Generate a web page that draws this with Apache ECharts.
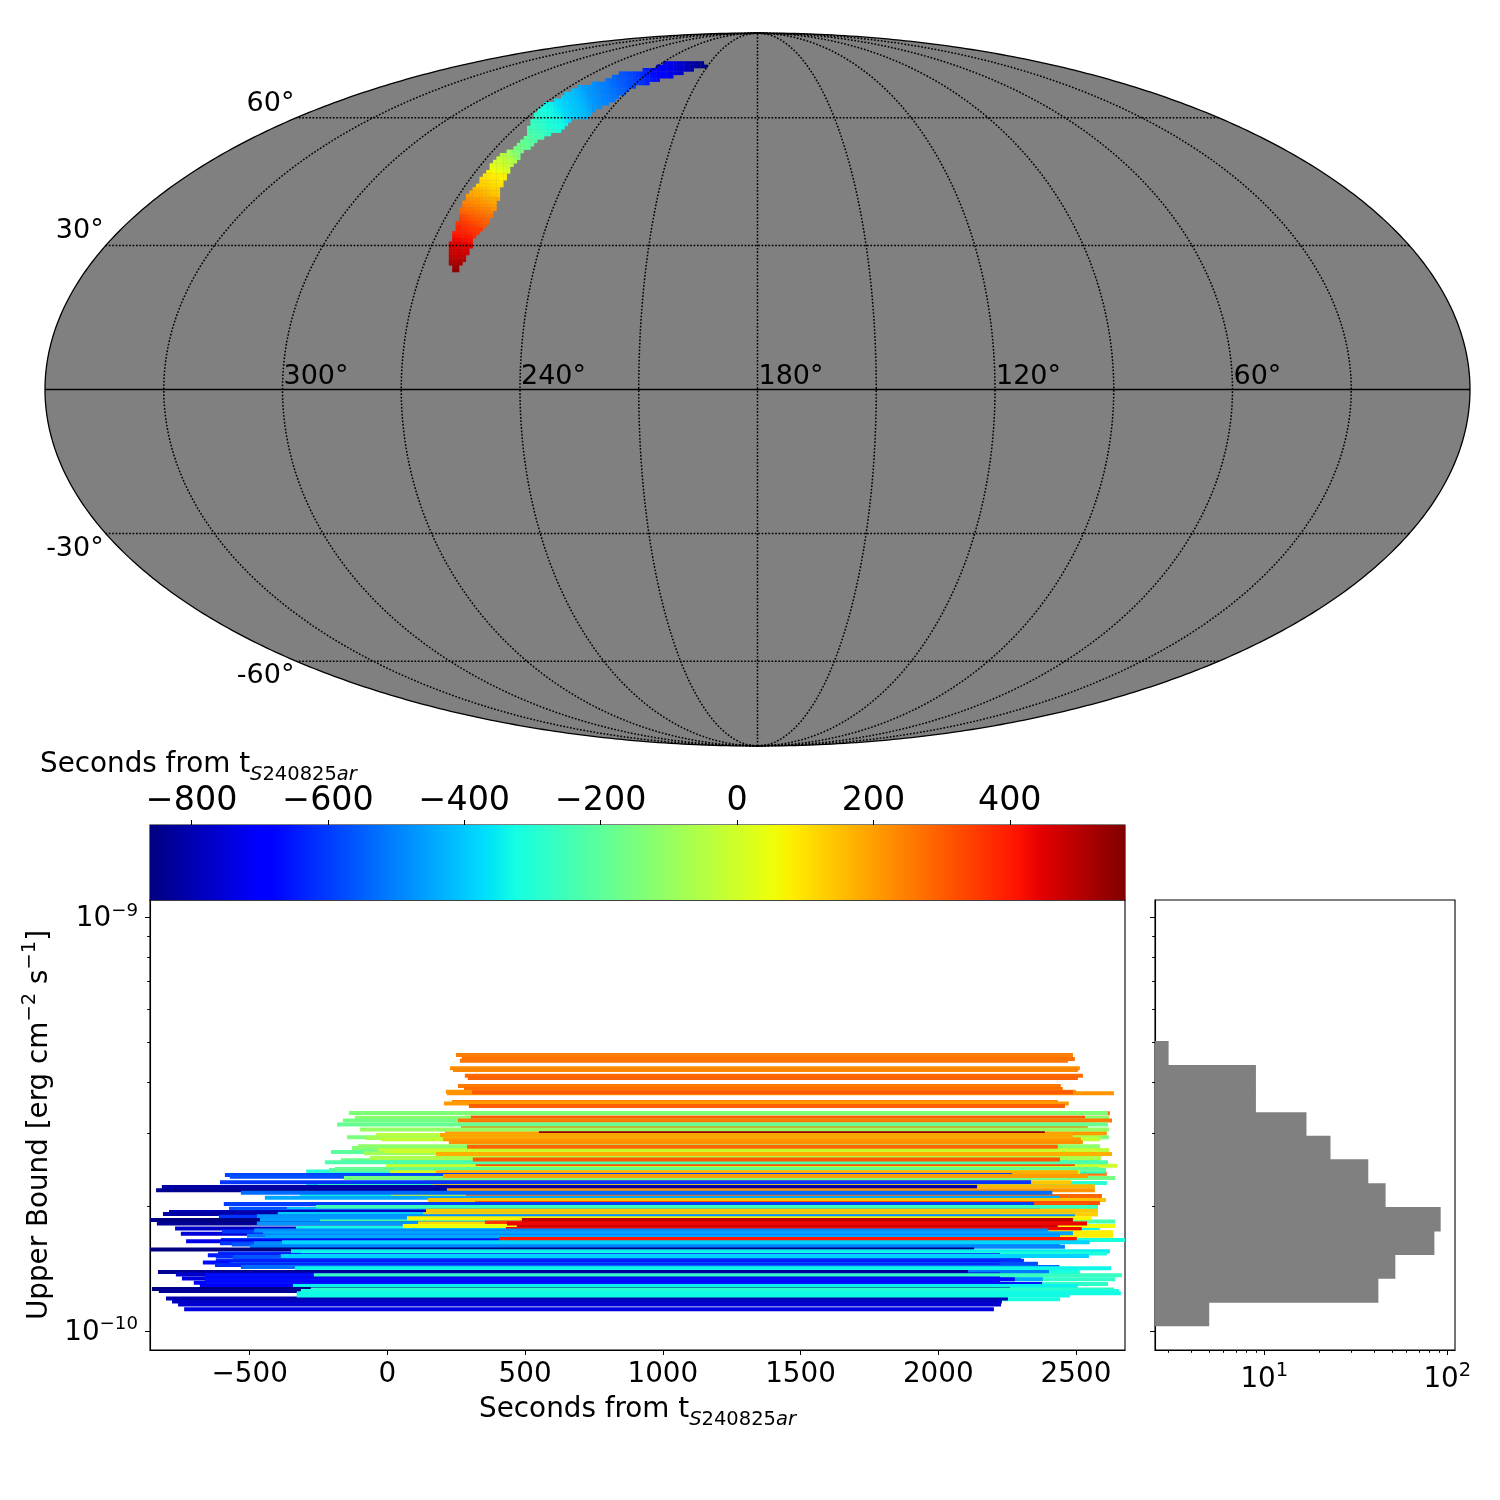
<!DOCTYPE html>
<html><head><meta charset="utf-8">
<style>html,body{margin:0;padding:0;background:#fff}#c{width:1500px;height:1500px}</style>
<script src="https://cdn.jsdelivr.net/npm/echarts@6/dist/echarts.min.js"></script>
</head><body><div id="c"></div>
<script>
// ---- sky localisation strip: two edges (deg) and arrival offset (s) at stations along the strip
const skyLonA=[213.2,222.5,230.4,239.6,242.6,249.2,254.8,257.3,262.6,266.9,267.3,270.0,268.8,266.1,263.3,263.5,263.8,266.6,266.9,266.7,266.8,267.9,267.5,266.6,265.9,265.7,265.0,264.0,262.3,260.8];
const skyLatA=[76.3,77.2,76.9,76.3,74.4,73.6,73.3,70.9,69.7,68.2,65.0,63.9,60.7,58.1,55.5,53.4,51.8,51.0,48.6,45.8,43.1,41.2,39.3,37.1,34.8,32.6,30.1,27.2,25.5,24.0];
const skyLonB=[210.7,216.5,221.9,227.9,233.0,238.7,240.1,242.5,246.2,246.8,251.7,251.3,252.9,256.1,257.6,258.6,259.9,259.0,259.7,259.3,258.6,257.3,256.8,256.6,257.7,259.0,258.8,259.2,259.9,260.4];
const skyLatB=[74.9,73.8,72.4,71.2,69.7,68.7,66.7,63.9,61.6,60.1,59.4,58.1,56.4,55.5,53.9,52.2,50.6,49.4,47.9,45.8,43.1,40.4,37.8,35.2,33.7,31.9,29.7,27.6,25.5,24.0];
const skyT=[-855,-815,-760,-700,-655,-590,-560,-510,-470,-420,-380,-340,-300,-260,-220,-180,-140,-60,0,76,125,183,240,300,355,400,455,490,533,565];

// ---- graticule
const meridians=[30,60,90,120,150,180,210,240,270,300,330];
const parallels=[-60,-30,30,60];
const lonLabels=[300,240,180,120,60];
const latLabels=[60,30,-30,-60];

// ---- upper limits: bound in units of 1e-10 erg/cm2/s, interval start and stop (s), in drawing order
const upperBound=[
4.65,4.55,4.50,4.32,4.28,4.14,4.09,3.91,3.85,3.79,3.76,3.78,3.58,3.55,3.50,
3.36,3.365,3.28,3.28,3.23,3.23,3.13,3.16,
2.94,2.98,2.93,2.91,3.01,3.07,3.01,2.98,2.91,2.86,
2.71,2.80,2.77,2.74,2.69,2.72,2.68,2.79,
2.59,2.62,2.51,2.535,2.56,2.60,
2.40,2.43,2.45,2.465,2.42,2.42,2.385,2.36,2.345,2.37,
2.28,2.29,2.29,
2.19,2.24,2.24,2.23,2.19,2.12,2.12,2.12,2.16,2.10,2.075,
2.04,2.03,1.975,1.97,1.995,
1.955,1.94,1.92,1.92,1.955,1.915,1.89,1.895,
1.855,1.855,1.84,1.875,1.82,1.82,1.82,1.83,1.77,1.775,1.795,1.855,1.82,1.785,1.765,
1.735,1.70,1.72,1.74,1.75,1.725,1.70,1.69,
1.66,1.66,1.65,1.67,1.63,1.62,1.63,1.64,1.60,
1.575,1.54,1.56,1.54,
1.525,1.515,1.51,1.52,1.48,1.465,1.455,1.445,1.43,1.42,
1.39,1.39,1.39,1.37,1.365,1.365,
1.335,1.335,1.34,1.335,1.30,1.31,1.30,1.285,1.285,
1.265,1.195,1.25,1.20,1.26,1.25,1.235,1.22,
1.18,1.16,1.13];
const tStart=[
249,270,263,227,238,281,292,256,278,212,216,307,234,205,296,
281,-140,-118,303,-162,256,267,-183,
-147,-42,-78,-24,209,-100,550,191,202,223,
-205,-107,-129,-34,-85,-9,176,289,
-169,-64,-5,321,-227,310,
263,-295,-212,-191,9,176,-590,-572,-158,202,
-295,136,-608,
-840,-252,165,-819,216,-318,13,285,-532,-445,147,
318,-594,-575,-365,-259,
-553,-793,-815,-398,140,129,-612,-474,
-862,-463,-245,71,-837,-474,111,354,-771,-332,56,488,434,470,430,
80,80,-750,-601,-484,-452,-510,-445,
-318,-605,-731,405,-608,-565,-485,-383,-499,
-862,-615,-350,-314,
-652,-623,-561,-387,-623,-670,-572,-626,-532,-336,
-318,-510,-833,-768,-663,-267,
-281,-445,-746,-663,-281,-703,-659,-681,-343,
-855,-318,-830,-804,-278,-314,-329,-329,
-782,-760,-738];
const tEnd=[
2489,2496,2471,2514,2507,2525,2507,2445,2452,2500,2638,2489,2434,2474,2460,
2623,2616,2620,2533,2587,2631,2543,2616,
2620,2591,2591,2587,2612,2620,2387,2489,2518,2525,
2616,2587,2587,2620,2587,2587,2631,2434,
2587,2591,2649,2496,2616,2442,
2612,2609,2609,2583,2514,2507,2268,2268,2642,2543,
2612,2482,2337,
2115,2568,2568,2141,2569,2514,2587,2594,2414,2442,2609,
2587,2348,2442,2442,2580,
2369,2188,2188,2500,2580,2580,2224,2496,
2224,2496,2642,2556,2224,2533,2533,2442,2200,2587,2642,2489,2540,2434,2521,
2635,2635,2200,2200,2400,2489,2442,2442,
2678,2224,2224,2503,2260,2297,2442,2550,2460,
2130,2224,2623,2612,
2224,2224,2300,2547,2311,2224,2362,2224,2440,2627,
2514,2402,2108,2224,2224,2667,
2642,2380,2224,2278,2616,2224,2377,2224,2507,
2260,2442,2200,2253,2638,2656,2663,2478,
2231,2228,2202];

// ---- histogram of upper bounds
const histEdgesLog=[-9.987,-9.930,-9.872,-9.815,-9.758,-9.701,-9.644,-9.586,-9.529,-9.472,-9.415,-9.358,-9.300];
const histCounts=[5,42,52,85,92,46,37,23,17,9,9,3];

// ---- ticks
const timeTicks=[-500,0,500,1000,1500,2000,2500];
const cbarTicks=[-800,-600,-400,-200,0,200,400];
const fluxDecades=[-10,-9];
const fluxMinorMant=[9e-11,2e-10,3e-10,4e-10,5e-10,6e-10,7e-10,8e-10,9e-10];
const countDecades=[1,2];
const countMinor=[3,4,5,6,7,8,9,20,30,40,50,60,70,80,90];

const T_MIN=-861,T_MAX=569;
const FONT='DejaVu Sans';
const S2=Math.SQRT2;

function jetChan(a,v){for(let i=1;i<a.length;i++){if(v<=a[i][0]){const p=a[i-1],q=a[i];return p[1]+(q[1]-p[1])*(v-p[0])/(q[0]-p[0]);}}return a[a.length-1][1];}
const JR=[[0,0],[.35,0],[.66,1],[.89,1],[1,.5]],JG=[[0,0],[.125,0],[.375,1],[.64,1],[.91,0],[1,0]],JB=[[0,.5],[.11,1],[.34,1],[.65,0],[1,0]];
function jet(n){n=Math.max(0,Math.min(1,n));return 'rgb('+[JR,JG,JB].map(a=>Math.round(255*jetChan(a,n))).join(',')+')';}
function jetT(t){return jet((t-T_MIN)/(T_MAX-T_MIN));}

function theta(latDeg){const target=Math.PI*Math.sin(latDeg*Math.PI/180);let lo=-Math.PI/2,hi=Math.PI/2;for(let i=0;i<50;i++){const m=(lo+hi)/2;if(2*m+Math.sin(2*m)<target)lo=m;else hi=m;}return (lo+hi)/2;}
function moll(lon,lat){const t=theta(lat);return [-(lon-180)*Math.PI/180*(2*S2/Math.PI)*Math.cos(t),S2*Math.sin(t)];}
function inQuad(pt,q){let c=false;for(let i=0,j=q.length-1;i<q.length;j=i++){if((q[i][1]>pt[1])!==(q[j][1]>pt[1])&&pt[0]<(q[j][0]-q[i][0])*(pt[1]-q[i][1])/(q[j][1]-q[i][1])+q[i][0])c=!c;}return c;}

const rich={
 m:{fontFamily:FONT,fontSize:27.8,verticalAlign:'bottom',color:'#000'},
 p:{fontFamily:FONT,fontSize:19.5,verticalAlign:'bottom',padding:[0,0,13,0],color:'#000'},
 q:{fontFamily:FONT,fontSize:18.2,verticalAlign:'bottom',padding:[0,0,13,0],color:'#000'},
 a:{fontFamily:FONT,fontSize:27.8,verticalAlign:'bottom',padding:[0,0,6,0],color:'#000'},
 s:{fontFamily:FONT,fontSize:19.5,fontStyle:'italic',verticalAlign:'bottom',color:'#000'},
 n:{fontFamily:FONT,fontSize:19.5,verticalAlign:'bottom',color:'#000'}
};
const xName='{a|Seconds from t}{s|S}{n|240825}{s|ar}';
const blackLine={show:true,onZero:false,lineStyle:{color:'#000',width:1.1}};
const hiddenLine={show:false,onZero:false};
const tick=(vals,len)=>({show:true,length:len,customValues:vals,lineStyle:{color:'#000',width:1}});

const fluxMinor=fluxMinorMant.map(v=>Math.log10(v));
const Y_MIN=Math.log10(9e-11)+0.0002,Y_MAX=-8.958;
const H_MIN=0.4027,H_MAX=2.042;
const CELL=3.4;

const series=[];
// sky
series.push({type:'custom',coordinateSystem:'cartesian2d',xAxisIndex:0,yAxisIndex:0,silent:true,z:1,data:[0],clip:false,
 renderItem(p,api){const pts=[];for(let a=0;a<=720;a++){const t=a/720*2*Math.PI;pts.push(api.coord([2*S2*Math.cos(t),S2*Math.sin(t)]));}
  return {type:'polygon',shape:{points:pts},style:{fill:'#808080',stroke:'#000',lineWidth:1.3}};}});
series.push({type:'custom',coordinateSystem:'cartesian2d',xAxisIndex:0,yAxisIndex:0,silent:true,z:2,clip:false,progressive:0,
 data:skyT.slice(0,-1).map((t,i)=>i),
 renderItem(p,api){const i=p.dataIndex;
  const c=k=>api.coord(moll(skyLonA[k],skyLatA[k])),d=k=>api.coord(moll(skyLonB[k],skyLatB[k]));
  const a0=c(i),a1=c(i+1),b0=d(i),b1=d(i+1),q=[a0,a1,b1,b0];
  const m0=[(a0[0]+b0[0])/2,(a0[1]+b0[1])/2],m1=[(a1[0]+b1[0])/2,(a1[1]+b1[1])/2];
  const dx=m1[0]-m0[0],dy=m1[1]-m0[1],L=dx*dx+dy*dy||1;
  const xs=q.map(v=>v[0]),ys=q.map(v=>v[1]);
  const children=[];
  for(let gx=Math.floor(Math.min(...xs)/CELL);gx*CELL<=Math.max(...xs);gx++){
   for(let gy=Math.floor(Math.min(...ys)/CELL);gy*CELL<=Math.max(...ys);gy++){
    const px=[gx*CELL+CELL/2,gy*CELL+CELL/2];
    if(!inQuad(px,q))continue;
    const u=Math.max(0,Math.min(1,((px[0]-m0[0])*dx+(px[1]-m0[1])*dy)/L));
    children.push({type:'rect',shape:{x:gx*CELL,y:gy*CELL,width:CELL+0.3,height:CELL+0.3},style:{fill:jetT(skyT[i]+(skyT[i+1]-skyT[i])*u)}});
   }}
  return {type:'group',children};}});
// graticule
const gratStyle={color:'#000',width:1.5,type:[1.7,1.7]};
meridians.forEach(lon=>{const d=[];for(let lat=-90;lat<=90;lat+=1.5)d.push(moll(lon,lat));
 series.push({type:'line',xAxisIndex:0,yAxisIndex:0,data:d,showSymbol:false,silent:true,z:3,clip:false,lineStyle:gratStyle});});
parallels.forEach(lat=>{const d=[];for(let lon=0;lon<=360;lon+=6)d.push(moll(lon,lat));
 series.push({type:'line',xAxisIndex:0,yAxisIndex:0,data:d,showSymbol:false,silent:true,z:3,clip:false,lineStyle:gratStyle});});
series.push({type:'line',xAxisIndex:0,yAxisIndex:0,data:[moll(0,0),moll(360,0)],showSymbol:false,silent:true,z:3,clip:false,lineStyle:{color:'#000',width:1.3}});
// graticule labels
series.push({type:'custom',xAxisIndex:0,yAxisIndex:0,silent:true,z:4,clip:false,data:lonLabels.map((v,i)=>i),
 renderItem(p,api){const v=lonLabels[p.dataIndex];const c=api.coord(moll(v,0));
  return {type:'text',x:c[0]+1,y:c[1]-13,style:{text:v+'°',font:'27px "DejaVu Sans"',fill:'#000',textAlign:'left',textVerticalAlign:'middle'}};}});
series.push({type:'custom',xAxisIndex:0,yAxisIndex:0,silent:true,z:4,clip:false,data:latLabels.map((v,i)=>i),
 renderItem(p,api){const v=latLabels[p.dataIndex];const c=api.coord(moll(360,v));
  return {type:'text',x:c[0]-2,y:c[1]+(v>0?-14:15),style:{text:v+'°',font:'27px "DejaVu Sans"',fill:'#000',textAlign:'right',textVerticalAlign:'middle'}};}});
// colour bar
series.push({type:'custom',xAxisIndex:1,yAxisIndex:1,silent:true,data:[0],
 renderItem(p,api){const a=api.coord([T_MIN,1]),b=api.coord([T_MAX,0]);const stops=[];for(let i=0;i<=128;i++)stops.push({offset:i/128,color:jet(i/128)});
  return {type:'rect',shape:{x:a[0],y:a[1],width:b[0]-a[0],height:b[1]-a[1]},style:{fill:new echarts.graphic.LinearGradient(0,0,1,0,stops)}};}});
// limits
series.push({type:'custom',xAxisIndex:2,yAxisIndex:2,silent:true,progressive:0,clip:true,
 data:upperBound.map((u,i)=>[tStart[i],tEnd[i],Math.log10(u*1e-10)]),
 encode:{x:[0,1],y:2},
 renderItem(p,api){const a=api.coord([api.value(0),api.value(2)]),b=api.coord([api.value(1),api.value(2)]);
  return {type:'rect',shape:{x:a[0],y:a[1]-2,width:b[0]-a[0],height:4},style:{fill:jetT(api.value(0))}};}});
// histogram
series.push({type:'custom',xAxisIndex:3,yAxisIndex:4,silent:true,progressive:0,
 data:histCounts.map((n,i)=>[Math.log10(n),histEdgesLog[i],histEdgesLog[i+1]]),
 encode:{x:0,y:[1,2]},
 renderItem(p,api){const a=api.coord([H_MIN,api.value(2)]),b=api.coord([api.value(0),api.value(1)]);
  return {type:'rect',shape:{x:a[0],y:a[1]-0.5,width:b[0]-a[0],height:b[1]-a[1]+1},style:{fill:'#808080'}};}});

const gridCommon={show:true,borderColor:'#000',borderWidth:1.1,backgroundColor:'transparent',outerBoundsMode:'none',containLabel:false};
const option={animation:false,backgroundColor:'#fff',textStyle:{fontFamily:FONT,color:'#000'},
 grid:[
  {left:45,top:33,width:1425,height:713,show:false,outerBoundsMode:'none'},
  Object.assign({left:150,top:825,width:975,height:75},gridCommon),
  Object.assign({left:150,top:900,width:975,height:450},gridCommon),
  Object.assign({left:1155,top:900,width:300,height:450},gridCommon)
 ],
 xAxis:[
  {gridIndex:0,type:'value',min:-2*S2,max:2*S2,show:false},
  {gridIndex:1,type:'value',min:T_MIN,max:T_MAX,position:'top',axisLine:hiddenLine,splitLine:{show:false},axisTick:tick(cbarTicks,5),
   axisLabel:{customValues:cbarTicks,fontSize:33.3,fontFamily:FONT,color:'#000',margin:7,formatter:v=>String(v).replace('-','\u2212')}},
  {gridIndex:2,type:'value',min:-862,max:2678,position:'bottom',axisLine:blackLine,splitLine:{show:false},axisTick:tick(timeTicks,5),
   axisLabel:{customValues:timeTicks,fontSize:27.8,fontFamily:FONT,color:'#000',margin:11,formatter:v=>String(v).replace('-','\u2212')},
   name:xName,nameLocation:'middle',nameGap:46,nameTextStyle:{rich}},
  {gridIndex:3,type:'value',min:H_MIN,max:H_MAX,position:'bottom',axisLine:blackLine,splitLine:{show:false},axisTick:tick(countDecades,5),
   axisLabel:{customValues:countDecades,margin:11,rich,formatter:v=>'{m|10}{p|'+Math.round(v)+'}'}},
  {gridIndex:3,type:'value',min:H_MIN,max:H_MAX,position:'bottom',axisLine:hiddenLine,splitLine:{show:false},axisTick:tick(countMinor.map(Math.log10),2.8),axisLabel:{show:false}}
 ],
 yAxis:[
  {gridIndex:0,type:'value',min:-S2,max:S2,show:false},
  {gridIndex:1,type:'value',min:0,max:1,show:false},
  {gridIndex:2,type:'value',min:Y_MIN,max:Y_MAX,position:'left',axisLine:blackLine,splitLine:{show:false},axisTick:tick(fluxDecades,5),
   axisLabel:{customValues:fluxDecades,margin:12,rich,formatter:v=>'{m|10}{q|\u2212'+Math.abs(Math.round(v))+'}'},
   name:'{m|Upper Bound [erg cm}{p|\u22122}{m| s}{p|\u22121}{m|]}',nameLocation:'middle',nameGap:95,nameRotate:90,nameTextStyle:{rich}},
  {gridIndex:2,type:'value',min:Y_MIN,max:Y_MAX,position:'left',axisLine:hiddenLine,splitLine:{show:false},axisTick:tick(fluxMinor,2.8),axisLabel:{show:false}},
  {gridIndex:3,type:'value',min:Y_MIN,max:Y_MAX,position:'left',axisLine:blackLine,splitLine:{show:false},axisTick:tick(fluxDecades,5),axisLabel:{show:false}},
  {gridIndex:3,type:'value',min:Y_MIN,max:Y_MAX,position:'left',axisLine:hiddenLine,splitLine:{show:false},axisTick:tick(fluxMinor,2.8),axisLabel:{show:false}}
 ],
 graphic:[{type:'text',left:40,top:751,style:{text:xName,rich}}],
 series
};
const chart=echarts.init(document.getElementById('c'),null,{renderer:'canvas',width:1500,height:1500});
chart.setOption(option);
</script></body></html>
